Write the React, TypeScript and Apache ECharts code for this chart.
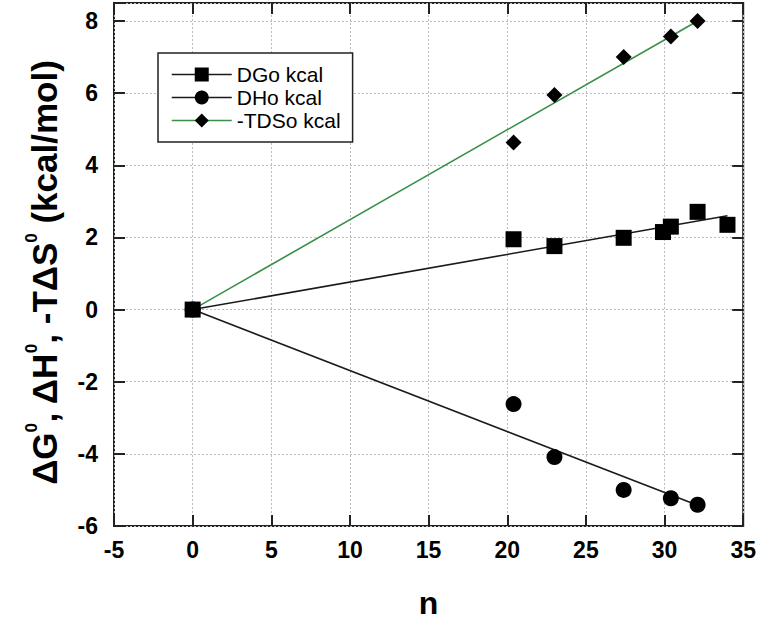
import React, { useEffect, useRef } from 'react';
import * as echarts from 'echarts';

const FONT = '"Liberation Sans", Arial, Helvetica, sans-serif';

// n values and measured values (kcal/mol)
const dgN = [0, 20.4, 23.0, 27.4, 29.9, 30.4, 32.1, 34.0];
const dgVal = [0, 1.95, 1.76, 1.99, 2.15, 2.3, 2.71, 2.35];
const dhN = [0, 20.4, 23.0, 27.4, 30.4, 32.1];
const dhVal = [0, -2.62, -4.09, -5.0, -5.23, -5.41];
const tdsN = [0, 20.4, 23.0, 27.4, 30.4, 32.1];
const tdsVal = [0, 4.63, 5.95, 7.0, 7.57, 8.0];

const seriesNames = ['DGo kcal', 'DHo kcal', '-TDSo kcal'];
const xTicks = { min: -5, max: 35, interval: 5 };
const yTicks = { min: -6, max: 8.5, interval: 2 };

function zip(xs: number[], ys: number[]) {
  return xs.map((x, i) => [x, ys[i]]);
}

// least-squares line through the origin, drawn from 0 to the last n
function fitLine(xs: number[], ys: number[]) {
  let sxy = 0;
  let sxx = 0;
  xs.forEach((x, i) => {
    sxy += x * ys[i];
    sxx += x * x;
  });
  const k = sxy / sxx;
  const xe = Math.max(...xs);
  return [
    [0, 0],
    [xe, k * xe],
  ];
}

const tickStyle = { inside: true, length: 11, lineStyle: { color: '#222', width: 2 } };
const labelStyle = { fontSize: 23, fontWeight: 'bold' as const, color: '#000', fontFamily: FONT };
const gridLine = { show: true, lineStyle: { type: [2, 2], color: '#bdbdbd', width: 1 } };
const noLine = { show: false, onZero: false };

const option: any = {
  animation: false,
  backgroundColor: '#fff',
  grid: {
    left: 114,
    right: 15,
    top: 3,
    bottom: 90,
    show: true,
    borderColor: '#222',
    borderWidth: 2,
    backgroundColor: 'transparent',
  },
  legend: {
    orient: 'vertical',
    left: 158,
    top: 53,
    padding: [11, 12, 11, 13],
    itemWidth: 60,
    itemHeight: 17.5,
    itemGap: 2,
    borderColor: '#222',
    borderWidth: 1.5,
    backgroundColor: '#fff',
    selectedMode: false,
    textStyle: { fontSize: 21, color: '#000', fontFamily: FONT, lineHeight: 21 },
    data: [
      { name: seriesNames[0], lineStyle: { color: '#1a1a1a', width: 1.5, opacity: 1 } },
      { name: seriesNames[1], lineStyle: { color: '#1a1a1a', width: 1.5, opacity: 1 } },
      { name: seriesNames[2], lineStyle: { color: '#3a8f4a', width: 1.5, opacity: 1 } },
    ],
  },
  xAxis: [
    {
      type: 'value',
      ...xTicks,
      position: 'bottom',
      axisLine: noLine,
      axisTick: tickStyle,
      axisLabel: { ...labelStyle, margin: 12 },
      splitLine: gridLine,
      name: 'n',
      nameLocation: 'middle',
      nameGap: 61,
      nameTextStyle: { fontSize: 32, fontWeight: 'bold', color: '#000', fontFamily: FONT },
    },
    {
      type: 'value',
      ...xTicks,
      position: 'top',
      axisLine: noLine,
      axisTick: tickStyle,
      axisLabel: { show: false },
      splitLine: { show: false },
    },
  ],
  yAxis: [
    {
      type: 'value',
      ...yTicks,
      position: 'left',
      axisLine: noLine,
      axisTick: tickStyle,
      axisLabel: {
        ...labelStyle,
        margin: 16,
        formatter: (v: number) => (v % 2 === 0 ? String(v) : ''),
      },
      splitLine: gridLine,
      name: '{m|ΔG}{s|0}{m|, ΔH}{s|0}{m|, -TΔS}{s|0}{m| (kcal/mol)}{g| }',
      nameLocation: 'middle',
      nameGap: 49,
      nameTextStyle: {
        rich: {
          m: { fontSize: 35, fontWeight: 'bold', color: '#000', fontFamily: FONT, lineHeight: 42 },
          s: { fontSize: 17, fontWeight: 'bold', color: '#000', fontFamily: FONT, lineHeight: 17, verticalAlign: 'top' },
          g: { fontSize: 10, width: 16 },
        },
      },
    },
    {
      type: 'value',
      ...yTicks,
      position: 'right',
      axisLine: noLine,
      axisTick: tickStyle,
      axisLabel: { show: false },
      splitLine: { show: false },
    },
  ],
  series: [
    {
      name: 'fitH',
      type: 'line',
      data: fitLine(dhN, dhVal),
      symbol: 'none',
      lineStyle: { color: '#1a1a1a', width: 1.6 },
      silent: true,
      z: 2,
    },
    {
      name: 'fitS',
      type: 'line',
      data: fitLine(tdsN, tdsVal),
      symbol: 'none',
      lineStyle: { color: '#3a8f4a', width: 1.6 },
      silent: true,
      z: 2,
    },
    {
      name: 'fitG',
      type: 'line',
      data: fitLine(dgN, dgVal),
      symbol: 'none',
      lineStyle: { color: '#1a1a1a', width: 1.6 },
      silent: true,
      z: 2,
    },
    {
      name: seriesNames[1],
      type: 'line',
      data: zip(dhN, dhVal),
      symbol: 'circle',
      symbolSize: 16,
      itemStyle: { color: '#000' },
      lineStyle: { opacity: 0 },
      z: 3,
    },
    {
      name: seriesNames[2],
      type: 'line',
      data: zip(tdsN, tdsVal),
      symbol: 'diamond',
      symbolSize: 16,
      itemStyle: { color: '#000' },
      lineStyle: { opacity: 0 },
      z: 3,
    },
    {
      name: seriesNames[0],
      type: 'line',
      data: zip(dgN, dgVal),
      symbol: 'rect',
      symbolSize: 16,
      itemStyle: { color: '#000' },
      lineStyle: { opacity: 0 },
      z: 4,
    },
  ],
};

export default function App() {
  const ref = useRef<HTMLDivElement>(null);
  useEffect(() => {
    const chart = echarts.init(ref.current as HTMLDivElement, null, { renderer: 'svg' });
    chart.setOption(option);
    return () => chart.dispose();
  }, []);
  return (
    <div
      ref={ref}
      style={{ position: 'fixed', left: 0, top: 0, width: 759, height: 624, background: '#fff' }}
    />
  );
}
